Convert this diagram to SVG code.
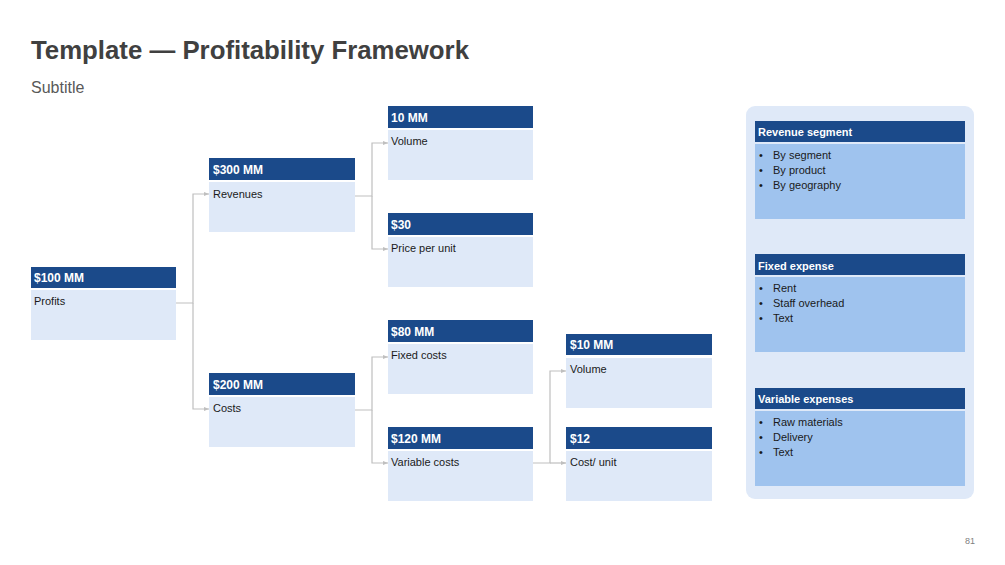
<svg xmlns="http://www.w3.org/2000/svg" width="1005" height="565" viewBox="0 0 1005 565">
<style>
.hd{fill:#1b4a8a}
.bd{fill:#dfe9f8}
.rb{fill:#9fc3ee}
.ht{font-family:"Liberation Sans",Arial,sans-serif;font-size:12px;font-weight:bold;fill:#ffffff}
.bt{font-family:"Liberation Sans",Arial,sans-serif;font-size:11px;fill:#1a1a1a}
.rt{font-family:"Liberation Sans",Arial,sans-serif;font-size:11px;font-weight:bold;fill:#ffffff}
.lt{font-family:"Liberation Sans",Arial,sans-serif;font-size:11px;fill:#1a1a1a}
.cn{fill:none;stroke:#bfbfbf;stroke-width:1.2}
</style>
<defs>
<marker id="ah" markerWidth="6" markerHeight="6" refX="5" refY="3" orient="auto" markerUnits="userSpaceOnUse">
<path d="M0,1 L5,3 L0,5 Z" fill="#bfbfbf"/>
</marker>
</defs>
<rect width="1005" height="565" fill="#ffffff"/>
<text x="31" y="59" font-family="'Liberation Sans',Arial,sans-serif" font-size="26" font-weight="bold" fill="#404040" textLength="438" lengthAdjust="spacingAndGlyphs">Template — Profitability Framework</text>
<text x="31" y="93" font-family="'Liberation Sans',Arial,sans-serif" font-size="16" fill="#595959">Subtitle</text>

<g id="connectors">
<path class="cn" d="M176,303 H193 V194 H209" marker-end="url(#ah)"/>
<path class="cn" d="M193,303 V409 H209" marker-end="url(#ah)"/>
<path class="cn" d="M355,196 H372 V143 H388" marker-end="url(#ah)"/>
<path class="cn" d="M372,196 V249 H388" marker-end="url(#ah)"/>
<path class="cn" d="M355,410 H372 V357 H388" marker-end="url(#ah)"/>
<path class="cn" d="M372,410 V463 H388" marker-end="url(#ah)"/>
<path class="cn" d="M533,463 H550 V371 H566" marker-end="url(#ah)"/>
<path class="cn" d="M550,463 H566" marker-end="url(#ah)"/>
</g>

<g id="profits">
<rect class="hd" x="31" y="267" width="145" height="21"/>
<rect class="bd" x="31" y="290" width="145" height="50"/>
<text class="ht" x="34" y="282">$100 MM</text>
<text class="bt" x="34" y="305">Profits</text>
</g>
<g id="revenues">
<rect class="hd" x="209" y="158" width="146" height="22"/>
<rect class="bd" x="209" y="182" width="146" height="50"/>
<text class="ht" x="213" y="174">$300 MM</text>
<text class="bt" x="213" y="198">Revenues</text>
</g>
<g id="costs">
<rect class="hd" x="209" y="373" width="146" height="22"/>
<rect class="bd" x="209" y="397" width="146" height="50"/>
<text class="ht" x="213" y="389">$200 MM</text>
<text class="bt" x="213" y="412">Costs</text>
</g>
<g id="volume1">
<rect class="hd" x="388" y="106" width="145" height="22"/>
<rect class="bd" x="388" y="130" width="145" height="50"/>
<text class="ht" x="391" y="122">10 MM</text>
<text class="bt" x="391" y="145">Volume</text>
</g>
<g id="price">
<rect class="hd" x="388" y="213" width="145" height="22"/>
<rect class="bd" x="388" y="237" width="145" height="50"/>
<text class="ht" x="391" y="229">$30</text>
<text class="bt" x="391" y="252">Price per unit</text>
</g>
<g id="fixed">
<rect class="hd" x="388" y="320" width="145" height="22"/>
<rect class="bd" x="388" y="344" width="145" height="50"/>
<text class="ht" x="391" y="336">$80 MM</text>
<text class="bt" x="391" y="359">Fixed costs</text>
</g>
<g id="variable">
<rect class="hd" x="388" y="427" width="145" height="22"/>
<rect class="bd" x="388" y="451" width="145" height="50"/>
<text class="ht" x="391" y="443">$120 MM</text>
<text class="bt" x="391" y="466">Variable costs</text>
</g>
<g id="volume2">
<rect class="hd" x="566" y="334" width="146" height="21"/>
<rect class="bd" x="566" y="358" width="146" height="50"/>
<text class="ht" x="570" y="349">$10 MM</text>
<text class="bt" x="570" y="373">Volume</text>
</g>
<g id="costunit">
<rect class="hd" x="566" y="427" width="146" height="22"/>
<rect class="bd" x="566" y="451" width="146" height="50"/>
<text class="ht" x="570" y="443">$12</text>
<text class="bt" x="570" y="466">Cost/ unit</text>
</g>

<g id="panel">
<rect x="746" y="106" width="228" height="393" rx="9" fill="#dfe9f8"/>
</g>
<g id="rev-segment">
<rect class="hd" x="755" y="121" width="210" height="21"/>
<rect class="rb" x="755" y="144" width="210" height="75"/>
<text class="rt" x="758" y="136">Revenue segment</text>
<text class="lt" x="759" y="159">•</text><text class="lt" x="773" y="159">By segment</text>
<text class="lt" x="759" y="174">•</text><text class="lt" x="773" y="174">By product</text>
<text class="lt" x="759" y="189">•</text><text class="lt" x="773" y="189">By geography</text>
</g>
<g id="fixed-expense">
<rect class="hd" x="755" y="254" width="210" height="21"/>
<rect class="rb" x="755" y="277" width="210" height="75"/>
<text class="rt" x="758" y="270">Fixed expense</text>
<text class="lt" x="759" y="292">•</text><text class="lt" x="773" y="292">Rent</text>
<text class="lt" x="759" y="307">•</text><text class="lt" x="773" y="307">Staff overhead</text>
<text class="lt" x="759" y="322">•</text><text class="lt" x="773" y="322">Text</text>
</g>
<g id="variable-expenses">
<rect class="hd" x="755" y="388" width="210" height="21"/>
<rect class="rb" x="755" y="411" width="210" height="75"/>
<text class="rt" x="758" y="403">Variable expenses</text>
<text class="lt" x="759" y="426">•</text><text class="lt" x="773" y="426">Raw materials</text>
<text class="lt" x="759" y="441">•</text><text class="lt" x="773" y="441">Delivery</text>
<text class="lt" x="759" y="456">•</text><text class="lt" x="773" y="456">Text</text>
</g>
<text x="965" y="544" font-family="'Liberation Sans',Arial,sans-serif" font-size="9" fill="#808080">81</text>
</svg>
